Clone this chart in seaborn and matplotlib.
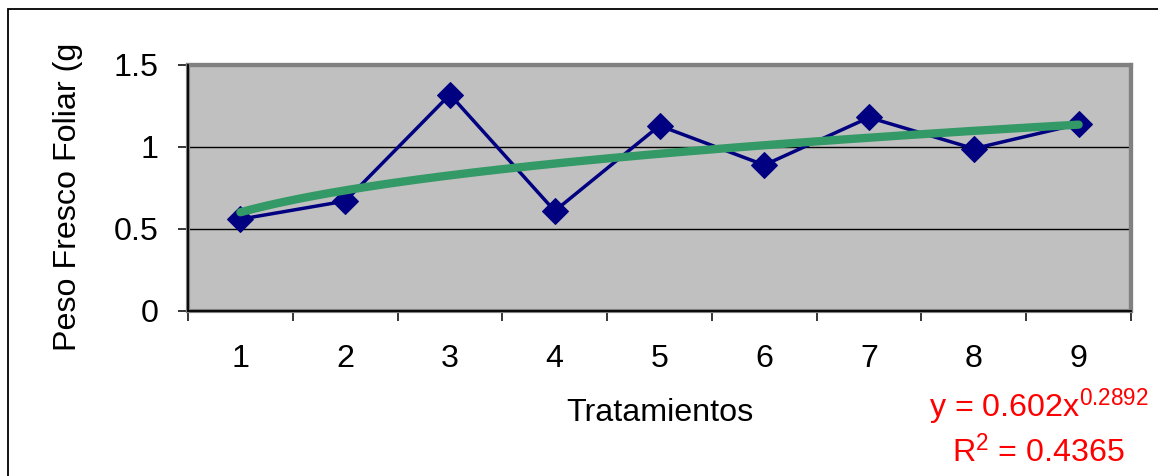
import numpy as np
import pandas as pd
import matplotlib
matplotlib.use("Agg")
import matplotlib.pyplot as plt
from matplotlib.patches import Rectangle
import seaborn as sns

# ---- data ----
tratamientos = [1, 2, 3, 4, 5, 6, 7, 8, 9]
peso_fresco = [0.56, 0.67, 1.32, 0.61, 1.13, 0.89, 1.18, 0.99, 1.14]
tick_labels = ["1", "2", "3", "4", "5", "6", "7", "8", "9"]
yticks = [0, 0.5, 1, 1.5]
ytick_labels = ["0", "0.5", "1", "1.5"]
trend_a = 0.602
trend_b = 0.2892
trend_r2 = 0.4365

sns.set_theme(style="white")
plt.rcParams['font.family'] = ['Liberation Sans', 'DejaVu Sans']
plt.rcParams['mathtext.default'] = 'regular'
plt.rcParams['text.color'] = 'black'
plt.rcParams['xtick.color'] = 'black'
plt.rcParams['ytick.color'] = 'black'
plt.rcParams['xtick.labelcolor'] = 'black'
plt.rcParams['ytick.labelcolor'] = 'black'

FS = 23.2

fig = plt.figure(figsize=(11.58, 4.76), dpi=100)
ax = fig.add_axes([188/1158, 1 - 311/476, (1131 - 188)/1158, (311 - 65)/476])
ax.set_facecolor("#C0C0C0")

df = pd.DataFrame({"x": tratamientos, "y": peso_fresco})
sns.lineplot(data=df, x="x", y="y", ax=ax, color="#000080", linewidth=2.5,
             marker="D", markersize=13, markeredgecolor="#000080", zorder=4)

xt = np.linspace(tratamientos[0], tratamientos[-1], 200)
trend = pd.DataFrame({"x": xt, "y": trend_a * xt ** trend_b})
sns.lineplot(data=trend, x="x", y="y", ax=ax, color="#339966", linewidth=6,
             zorder=5, solid_capstyle="round")

ax.set_xlim(0.5, 9.5)
ax.set_ylim(0, 1.5)

# gridlines
for v in yticks[1:-1]:
    ax.axhline(v, color="black", linewidth=1.0, zorder=1)

# gray plot-area frame
ax.add_patch(Rectangle((0, 0), 1, 1, transform=ax.transAxes, fill=False,
                       edgecolor="#808080", linewidth=3, zorder=2, clip_on=False))

# spines
for s in ["top", "right"]:
    ax.spines[s].set_color("#808080")
    ax.spines[s].set_linewidth(3)
for s in ["left", "bottom"]:
    ax.spines[s].set_color("black")
    ax.spines[s].set_linewidth(1.3)
    ax.spines[s].set_zorder(6)

ax.set_yticks(yticks)
ax.set_yticklabels(ytick_labels)
ax.set_xticks(tratamientos)
ax.set_xticklabels(tick_labels)
ax.set_xticks(np.arange(0.5, 9.6, 1.0), minor=True)
ax.tick_params(axis="y", which="major", direction="out", length=7.5, width=1.1,
               color="black", labelsize=FS, pad=14, left=True, labelcolor="black")
ax.tick_params(axis="x", which="major", length=0, labelsize=FS, pad=24, bottom=True,
               labelcolor="black")
ax.tick_params(axis="x", which="minor", direction="out", length=7.5, width=1.1,
               color="black", bottom=True)

ax.set_xlabel("")
ax.set_ylabel("")
fig.text(660/1158, 1 - 413/476, "Tratamientos", fontsize=FS, ha="center", va="center",
         color="black")
fig.text(68/1158, 1 - 197/476, "Peso Fresco Foliar (g", fontsize=FS, rotation=90,
         ha="center", va="center", color="black")

# trendline equation
fig.text(929/1158, 1 - 417/476,
         "y = %.3fx$^{%.4f}$" % (trend_a, trend_b), fontsize=FS, color="red",
         ha="left", va="baseline")
fig.text(952/1158, 1 - 462/476,
         "R$^{2}$ = %.4f" % trend_r2, fontsize=FS, color="red",
         ha="left", va="baseline")

# chart area border
fig.patches.append(Rectangle((8/1158, -0.2), 1.2, 1.2 - 9/476, transform=fig.transFigure,
                             fill=False, edgecolor="black", linewidth=1.3))

fig.savefig("out.png", dpi=100)
